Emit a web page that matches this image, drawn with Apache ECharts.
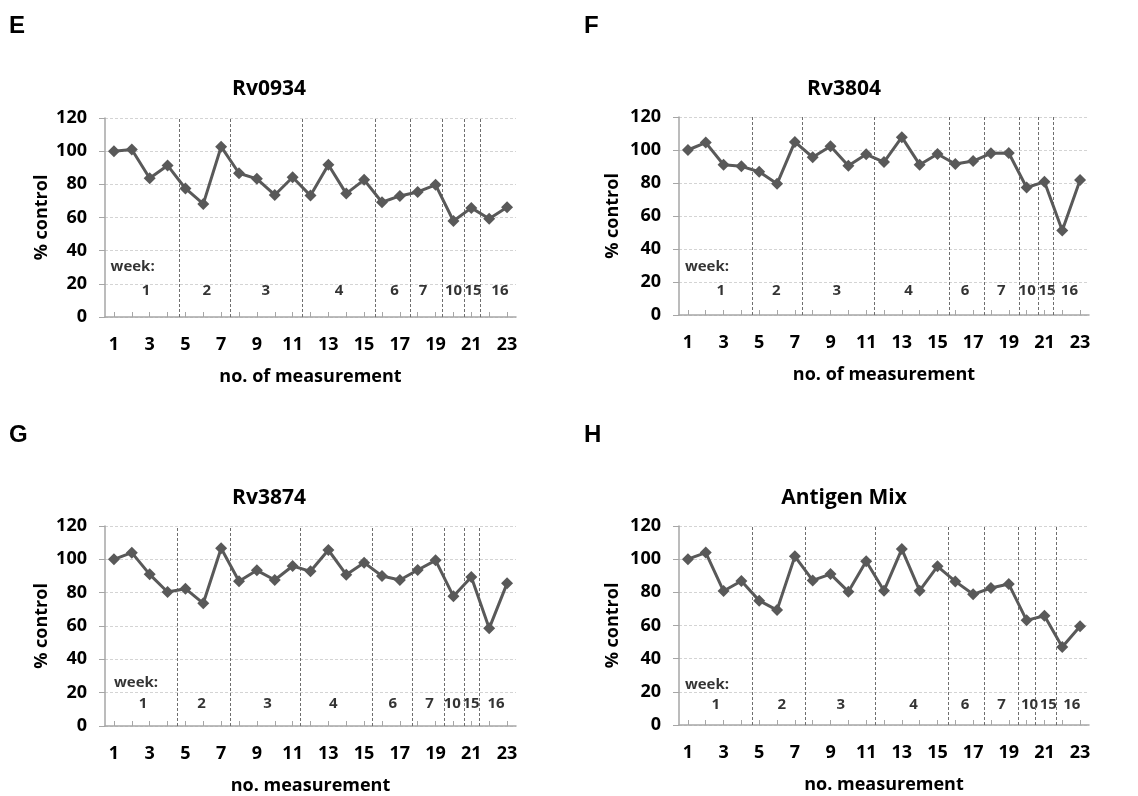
<!DOCTYPE html>
<html>
<head>
<meta charset="utf-8">
<script src="https://cdn.jsdelivr.net/npm/echarts@6/dist/echarts.min.js"></script>
<style>
html,body{margin:0;padding:0;background:#fff;}
#chart{width:1138px;height:796px;}
</style>
</head>
<body>
<div id="chart"></div>
<script>
// ---- data ----
const categories = ['1','2','3','4','5','6','7','8','9','10','11','12','13','14','15','16','17','18','19','20','21','22','23'];
const yTicks = [0, 20, 40, 60, 80, 100, 120];

const rv0934     = [100, 101, 83.7, 91.4, 77.5, 68.2, 102.7, 86.7, 83.3, 73.6, 84.3, 73.2, 91.8, 74.4, 82.7, 69.2, 73, 75.4, 79.7, 57.9, 65.8, 59.3, 66.2];
const rv3804     = [100, 104.5, 91.1, 90.1, 86.8, 79.5, 104.9, 95.6, 102.3, 90.5, 97.4, 92.7, 107.8, 91.1, 97.6, 91.5, 93.3, 98, 98.2, 77.3, 80.7, 51.2, 81.8];
const rv3874     = [100, 104, 91, 80.4, 82.4, 73.6, 106.6, 86.8, 93.4, 87.6, 96, 92.8, 105.6, 90.8, 98, 90, 87.6, 93.6, 99.4, 77.8, 89.4, 58.6, 85.6];
const antigenMix = [100, 104, 80.8, 86.8, 75, 69.3, 101.7, 87.2, 91, 80.4, 98.7, 81, 106.1, 81, 95.7, 86.6, 78.8, 82.6, 85, 63.1, 65.9, 47, 59.6];

// week annotations (in measurement-number units)
const weekNames = ['1','2','3','4','6','7','10','15','16'];
const weekBoundsE = [4.68, 7.49, 11.56, 15.6, 17.6, 19.4, 20.6, 21.5];
const weekBoundsF = [4.63, 7.39, 11.47, 15.68, 17.63, 19.58, 20.66, 21.5];
const weekBoundsG = [4.55, 7.5, 11.45, 15.47, 17.67, 19.47, 20.59, 21.47];
const weekBoundsH = [4.6, 7.61, 11.52, 15.59, 17.61, 19.54, 20.51, 21.64];
const weekLabelXE = [2.8, 6.2, 9.5, 13.6, 16.7, 18.3, 20.0, 21.1, 22.6];
const weekLabelXF = [2.84, 5.96, 9.35, 13.38, 16.54, 18.58, 20.03, 21.15, 22.4];
const weekLabelXG = [2.63, 5.9, 9.6, 13.28, 16.6, 18.66, 19.93, 20.98, 22.38];
const weekLabelXH = [2.57, 6.26, 9.58, 13.66, 16.54, 18.6, 20.16, 21.22, 22.53];
const weekLabelY = [16, 15, 13.4, 12.1];
const weekHeaderPos = [[0.81, 30.3], [0.83, 29], [1.0, 26], [0.83, 24.1]];

// ---- layout ----
const FONT = '"Open Sans", "Noto Sans", sans-serif';
const panels = [
  {letter:'E', title:'Rv0934', xName:'no. of measurement', values:rv0934, bounds:weekBoundsE, wx:weekLabelXE,
   grid:{left:105, top:118, width:411, height:199}, titleXY:[269, 89], letterXY:[9, 26], yGap:54},
  {letter:'F', title:'Rv3804', xName:'no. of measurement', values:rv3804, bounds:weekBoundsF, wx:weekLabelXF,
   grid:{left:679, top:117, width:410, height:198}, titleXY:[844, 89], letterXY:[584, 26], yGap:57},
  {letter:'G', title:'Rv3874', xName:'no. measurement', values:rv3874, bounds:weekBoundsG, wx:weekLabelXG,
   grid:{left:105, top:526, width:411, height:200}, titleXY:[269, 498], letterXY:[9, 435], yGap:54},
  {letter:'H', title:'Antigen Mix', xName:'no. measurement', values:antigenMix, bounds:weekBoundsH, wx:weekLabelXH,
   grid:{left:679, top:526, width:410, height:199}, titleXY:[844, 498], letterXY:[584, 435], yGap:57}
];

const AXIS_COLOR = '#a6a6a6';
const LINE_COLOR = '#595959';
const textBold = {fontFamily: FONT, fontWeight: 'bold', color: '#000'};

const grids = [], xAxes = [], yAxes = [], series = [], graphics = [];
const n = panels.length;
panels.forEach((p, i) => {
  grids.push(Object.assign({containLabel:false}, p.grid));
  xAxes[i] = {
    type:'category', gridIndex:i, data:categories, boundaryGap:true,
    axisLine:{show:true, lineStyle:{color:AXIS_COLOR, width:1.5}},
    axisTick:{show:true, inside:true, alignWithLabel:true, interval:0, length:5, lineStyle:{color:AXIS_COLOR, width:1}},
    axisLabel:Object.assign({interval:1, margin:19, fontSize:18}, textBold),
    splitLine:{show:false},
    name:p.xName, nameLocation:'middle', nameGap:51,
    nameTextStyle:Object.assign({fontSize:18}, textBold)
  };
  xAxes[n + i] = {type:'value', gridIndex:i, min:0.5, max:23.5, show:false};
  yAxes.push({
    type:'value', gridIndex:i, min:yTicks[0], max:yTicks[yTicks.length-1], interval:20,
    axisLine:{show:true, lineStyle:{color:AXIS_COLOR, width:1.5}},
    axisTick:{show:true, length:6, lineStyle:{color:AXIS_COLOR}},
    splitLine:{show:true, lineStyle:{color:'#d4d4d4', type:[3,2], width:1}},
    axisLabel:Object.assign({margin:18, fontSize:18}, textBold),
    name:'% control', nameLocation:'middle', nameGap:p.yGap,
    nameTextStyle:Object.assign({fontSize:18}, textBold)
  });
  // data line
  series.push({
    type:'line', xAxisIndex:i, yAxisIndex:i, data:p.values,
    symbol:'diamond', symbolSize:12, showSymbol:true, showAllSymbol:true,
    lineStyle:{color:LINE_COLOR, width:3}, itemStyle:{color:LINE_COLOR},
    z:5, silent:true
  });
  // week separators
  series.push({
    type:'scatter', xAxisIndex:n+i, yAxisIndex:i, data:[], silent:true,
    markLine:{
      silent:true, symbol:['none','none'], label:{show:false},
      lineStyle:{color:'#6e6e6e', type:[3,2], width:1},
      data:p.bounds.map(v => ({xAxis:v}))
    }
  });
  // week labels
  const wd = p.wx.map((x, k) => ({name:weekNames[k], value:[x, weekLabelY[i]]}));
  series.push({
    type:'scatter', xAxisIndex:n+i, yAxisIndex:i, symbolSize:0, silent:true,
    data:wd,
    label:Object.assign({show:true, position:'inside', formatter:'{b}', fontSize:15}, textBold)
  });
  series.push({
    type:'scatter', xAxisIndex:n+i, yAxisIndex:i, symbolSize:0, silent:true,
    data:[{name:'week:', value:weekHeaderPos[i]}],
    label:Object.assign({show:true, position:'right', distance:0, formatter:'{b}', fontSize:15}, textBold)
  });
  graphics.push({
    type:'text', x:p.titleXY[0], y:p.titleXY[1], silent:true,
    style:{text:p.title, font:'bold 21px ' + FONT, fill:'#000', align:'center', verticalAlign:'middle', textAlign:'center', textVerticalAlign:'middle'}
  });
  graphics.push({
    type:'text', x:p.letterXY[0], y:p.letterXY[1], silent:true,
    style:{text:p.letter, font:'bold 24px "Liberation Sans", Arial, sans-serif', fill:'#000', align:'left', verticalAlign:'middle', textAlign:'left', textVerticalAlign:'middle'}
  });
});

const chart = echarts.init(document.getElementById('chart'), null, {renderer:'canvas'});
chart.setOption({
  animation:false,
  backgroundColor:'#fff',
  grid:grids, xAxis:xAxes, yAxis:yAxes, series:series, graphic:graphics
});
</script>
</body>
</html>
